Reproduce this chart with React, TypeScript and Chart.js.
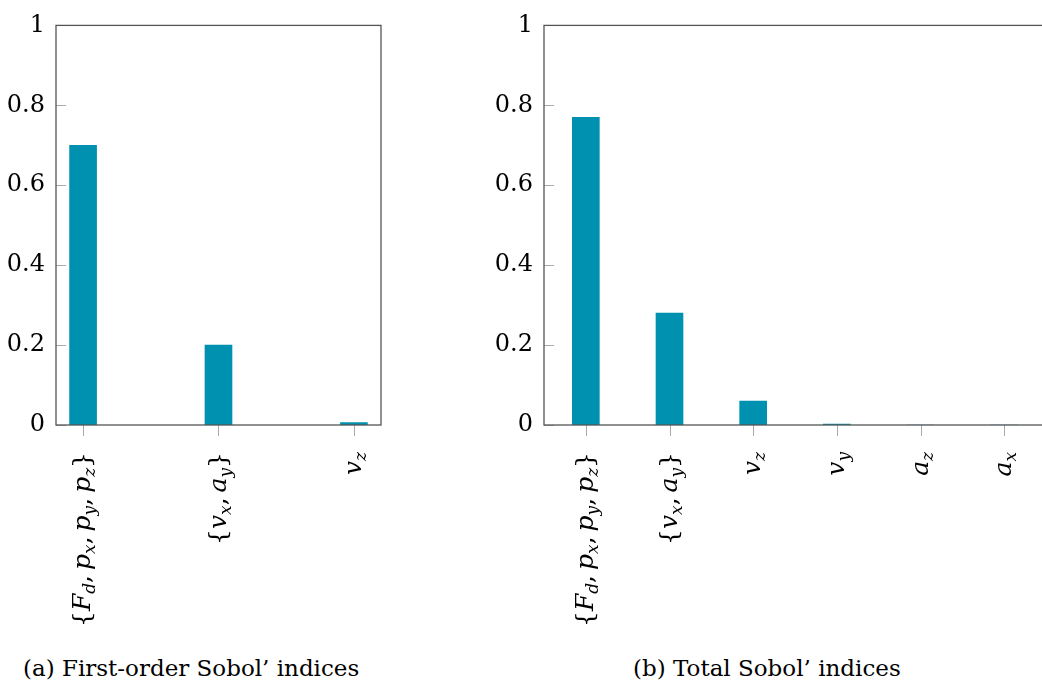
import React, { useEffect, useRef } from 'react';
import { Chart, registerables } from 'chart.js';

Chart.register(...registerables);

// ---- Data ----
const firstOrderLabels = ['{F_d, p_x, p_y, p_z}', '{v_x, a_y}', 'v_z'];
const firstOrderValues = [0.70, 0.20, 0.006];

const totalLabels = ['{F_d, p_x, p_y, p_z}', '{v_x, a_y}', 'v_z', 'v_y', 'a_z', 'a_x'];
const totalValues = [0.77, 0.28, 0.06, 0.002, 0, 0];

const yTickLabels = ['0', '0.2', '0.4', '0.6', '0.8', '1'];

const captionA = '(a) First-order Sobol\u2019 indices';
const captionB = '(b) Total Sobol\u2019 indices';

// ---- Styles ----
const BAR_COLOR = '#0091b1';
const FRAME_COLOR = '#555555';
const TICK_COLOR = '#aaaaaa';
const FONT = '"DejaVu Serif", serif';
const MAIN_SIZE = 25;
const SUB_SIZE = 17;

type Seg = { text: string; font: string; dy: number };

function parseLabel(label: string): Seg[] {
  const segs: Seg[] = [];
  const italic = `italic ${MAIN_SIZE}px ${FONT}`;
  const upright = `${MAIN_SIZE}px ${FONT}`;
  const sub = `italic ${SUB_SIZE}px ${FONT}`;
  for (let i = 0; i < label.length; i++) {
    const c = label[i];
    if (c === '_') {
      segs.push({ text: label[i + 1], font: sub, dy: 5 });
      i++;
    } else if (/[A-Za-z]/.test(c)) {
      segs.push({ text: c, font: italic, dy: 0 });
    } else if (c === ' ') {
      segs.push({ text: '\u2009', font: upright, dy: 0 });
    } else {
      segs.push({ text: c, font: upright, dy: 0 });
    }
  }
  return segs;
}

function makeDecor(labels: string[]) {
  return {
    id: 'decor',
    afterDraw(chart: any) {
      const { ctx, chartArea } = chart;
      const { left, right, top, bottom } = chartArea;
      const xs = chart.scales.x;
      const ys = chart.scales.y;
      ctx.save();
      // y tick marks (inside)
      ctx.strokeStyle = TICK_COLOR;
      ctx.lineWidth = 1;
      ys.ticks.forEach((t: any) => {
        const y = Math.round(ys.getPixelForValue(t.value)) + 0.5;
        ctx.beginPath();
        ctx.moveTo(left, y);
        ctx.lineTo(left + 10, y);
        ctx.stroke();
      });
      // x tick marks (outside)
      labels.forEach((_, i) => {
        const x = Math.round(xs.getPixelForValue(i)) + 0.5;
        ctx.beginPath();
        ctx.moveTo(x, bottom);
        ctx.lineTo(x, bottom + 11);
        ctx.stroke();
      });
      // frame
      ctx.strokeStyle = FRAME_COLOR;
      ctx.lineWidth = 1.3;
      ctx.strokeRect(left, top, right - left, bottom - top);
      // rotated rich labels
      ctx.fillStyle = '#000';
      ctx.textBaseline = 'alphabetic';
      ctx.textAlign = 'left';
      labels.forEach((lab, i) => {
        const segs = parseLabel(lab);
        let total = 0;
        const widths = segs.map((s) => {
          ctx.font = s.font;
          const w = ctx.measureText(s.text).width;
          total += w;
          return w;
        });
        const x = xs.getPixelForValue(i);
        ctx.save();
        ctx.translate(x, bottom + 27);
        ctx.rotate(-Math.PI / 2);
        let pos = -total;
        segs.forEach((s, k) => {
          ctx.font = s.font;
          ctx.fillText(s.text, pos, 7 + s.dy);
          pos += widths[k];
        });
        ctx.restore();
      });
      ctx.restore();
    },
  };
}

type Props = {
  labels: string[];
  values: number[];
  xMin: number;
  xMax: number;
  left: number;
  width: number;
  yWidth: number;
  padRight: number;
};

const CANVAS_H = 640;

function SobolChart({ labels, values, xMin, xMax, left, width, yWidth, padRight }: Props) {
  const ref = useRef<HTMLCanvasElement>(null);
  useEffect(() => {
    const chart = new Chart(ref.current as HTMLCanvasElement, {
      type: 'bar',
      data: {
        datasets: [
          {
            data: labels.map((_, i) => ({ x: i, y: values[i] })),
            backgroundColor: BAR_COLOR,
            borderWidth: 0,
            barThickness: 27,
          },
        ],
      },
      options: {
        animation: false,
        responsive: false,
        maintainAspectRatio: false,
        layout: { padding: { top: 15, right: padRight, bottom: 0, left: 0 } },
        plugins: { legend: { display: false }, tooltip: { enabled: false } },
        scales: {
          x: {
            type: 'linear',
            offset: false,
            min: xMin,
            max: xMax,
            grid: { display: false, drawTicks: false, offset: false },
            border: { display: false },
            ticks: { display: false },
            afterFit: (s: any) => {
              s.height = CANVAS_H - 425;
            },
          },
          y: {
            min: 0,
            max: 1,
            ticks: {
              stepSize: 0.2,
              padding: 11,
              color: '#000',
              font: { family: FONT, size: 24 },
              callback: (_v: any, i: number) => yTickLabels[i],
            },
            grid: { display: false, drawTicks: false },
            border: { display: false },
            afterFit: (s: any) => {
              s.width = yWidth;
            },
          },
        },
      } as any,
      plugins: [makeDecor(labels)],
    });
    return () => chart.destroy();
  }, []);
  return (
    <canvas
      ref={ref}
      width={width}
      height={CANVAS_H}
      style={{ position: 'absolute', left, top: 0, width, height: CANVAS_H }}
    />
  );
}

const captionStyle: React.CSSProperties = {
  position: 'absolute',
  top: 657,
  fontFamily: FONT,
  fontSize: 23,
  lineHeight: 1,
  whiteSpace: 'nowrap',
  color: '#000',
};

export default function App() {
  return (
    <div
      style={{
        position: 'fixed',
        left: 0,
        top: 0,
        width: 1042,
        height: 688,
        overflow: 'hidden',
        background: '#fff',
      }}
    >
      <SobolChart
        labels={firstOrderLabels}
        values={firstOrderValues}
        xMin={-0.2}
        xMax={2.2}
        left={0}
        width={400}
        yWidth={56}
        padRight={19}
      />
      <SobolChart
        labels={totalLabels}
        values={totalValues}
        xMin={-0.5}
        xMax={5.5}
        left={488}
        width={570}
        yWidth={56}
        padRight={12}
      />
      <div style={{ ...captionStyle, left: 23 }}>{captionA}</div>
      <div style={{ ...captionStyle, left: 633 }}>{captionB}</div>
    </div>
  );
}
